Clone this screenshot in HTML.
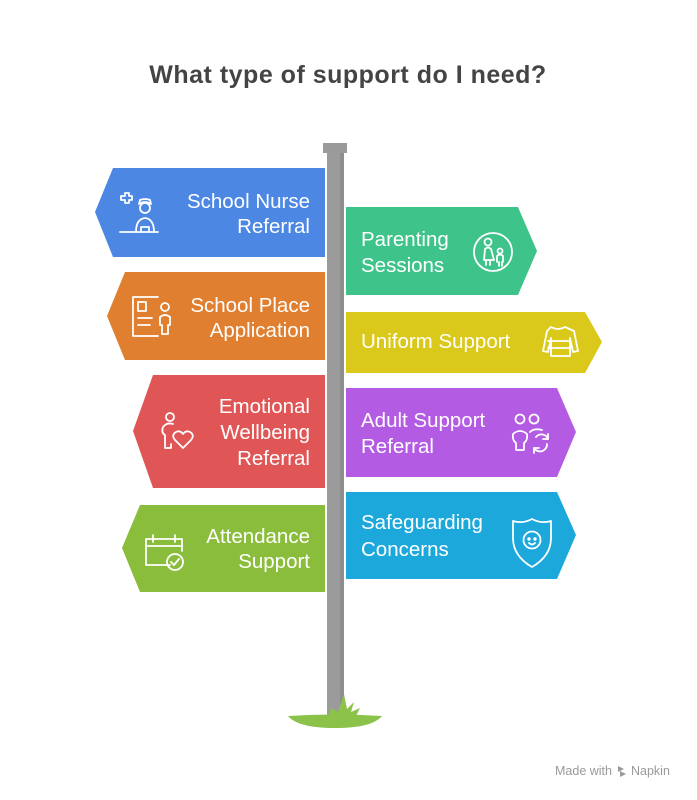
<!DOCTYPE html>
<html><head><meta charset="utf-8"><style>
html,body{margin:0;padding:0;background:#fff;}
svg{display:block;}
text{font-family:"Liberation Sans",Arial,sans-serif;}
</style></head><body>
<svg width="697" height="800" viewBox="0 0 697 800" xmlns="http://www.w3.org/2000/svg">
<rect width="697" height="800" fill="#fff"/>
<text x="348" y="83" text-anchor="middle" font-size="25" letter-spacing="0.5" font-weight="bold" fill="#444">What type of support do I need?</text>

<!-- pole -->
<rect x="323" y="143" width="24" height="10" fill="#9a9a9a"/>
<rect x="327" y="153" width="17" height="562" fill="#9b9b9b"/>
<rect x="340" y="153" width="4" height="562" fill="#8e8e8e"/>
<!-- ground -->
<path d="M288,716 Q335,713 382,716 Q372,728 335,728 Q298,728 288,716 Z" fill="#8bc34a"/>
<path d="M328,716 L331,708 L338,712 L344,694 L347,709 L354,702 L351,712 L360,708 L356,716 Z" fill="#8bc34a"/>

<!-- left signs -->
<polygon points="113,168 325,168 325,257 113,257 95,212" fill="#4b87e3"/>
<polygon points="125,272 325,272 325,360 125,360 107,316" fill="#e07f2f"/>
<polygon points="153,375 325,375 325,488 153,488 133,431" fill="#e05656"/>
<polygon points="140,505 325,505 325,592 140,592 122,548" fill="#8bbd3c"/>

<!-- right signs -->
<polygon points="346,207 518,207 537,251 518,295 346,295" fill="#3ec48a"/>
<polygon points="346,312 585,312 602,342 585,373 346,373" fill="#dac81a"/>
<polygon points="346,388 557,388 576,432 557,477 346,477" fill="#b35be3"/>
<polygon points="346,492 557,492 576,535 557,579 346,579" fill="#1da8dc"/>

<g fill="#fff" font-size="20.5">
<text x="310" y="208" text-anchor="end">School Nurse</text>
<text x="310" y="233" text-anchor="end">Referral</text>
<text x="310" y="312" text-anchor="end">School Place</text>
<text x="310" y="337" text-anchor="end">Application</text>
<text x="310" y="413" text-anchor="end">Emotional</text>
<text x="310" y="439" text-anchor="end">Wellbeing</text>
<text x="310" y="465" text-anchor="end">Referral</text>
<text x="310" y="543" text-anchor="end">Attendance</text>
<text x="310" y="568" text-anchor="end">Support</text>
<text x="361" y="246">Parenting</text>
<text x="361" y="272">Sessions</text>
<text x="361" y="348">Uniform Support</text>
<text x="361" y="427">Adult Support</text>
<text x="361" y="453">Referral</text>
<text x="361" y="529">Safeguarding</text>
<text x="361" y="556">Concerns</text>
</g>

<!-- icons -->
<g fill="none" stroke="#fff" stroke-width="1.8" stroke-linecap="round" stroke-linejoin="round">
<!-- nurse -->
<path d="M121,196 h4 v-3 h4 v3 h3 v4 h-3 v3 h-4 v-3 h-4 z"/>
<path d="M139,204 q6,-4 12,0 l-1,-4 q-5,-2 -10,0 z"/>
<circle cx="145" cy="208" r="5"/>
<path d="M136,232 q0,-13 9,-14 q9,1 9,14"/>
<path d="M141,232 v-5 h8 v5"/>
<line x1="120" y1="232" x2="158" y2="232"/>
<!-- school place doc -->
<path d="M158,297 h-25 v39 h25"/>
<rect x="138" y="302" width="8" height="9"/>
<line x1="138" y1="318" x2="152" y2="318"/>
<line x1="138" y1="325" x2="150" y2="325"/>
<circle cx="165" cy="307" r="4"/>
<path d="M160,325 v-8 q5,-4 10,0 v8 h-2 v9 h-6 v-9 z"/>
<!-- emotional -->
<circle cx="170" cy="417" r="4"/>
<path d="M165,440 v-5 q-4,-2 -2,-8 q4,-5 10,-3"/>
<path d="M165,440 v8 h6 v-4"/>
<path d="M183,448 l-8,-8 q-4,-5 1,-8 q4,-2 7,2 q3,-4 7,-2 q5,3 1,8 z"/>
<!-- calendar -->
<path d="M170,565 h-24 v-26 h36 v12"/>
<line x1="146" y1="546" x2="182" y2="546"/>
<line x1="153" y1="535" x2="153" y2="542"/>
<line x1="175" y1="535" x2="175" y2="542"/>
<circle cx="175" cy="562" r="8"/>
<path d="M171,562 l3,3 l5,-6"/>
<!-- parenting -->
<circle cx="493" cy="252" r="19"/>
<circle cx="488" cy="242" r="3.5"/>
<path d="M484,260 l1,-11 q3,-3 6,0 l3,11 z"/>
<line x1="486" y1="260" x2="486" y2="265"/>
<line x1="490" y1="260" x2="490" y2="265"/>
<circle cx="500" cy="251" r="2.5"/>
<path d="M497,262 v-6 q3,-3 6,0 v6"/>
<line x1="499" y1="262" x2="499" y2="266"/>
<line x1="502" y1="262" x2="502" y2="266"/>
<!-- shirt -->
<path d="M551,327 q7,4 14,0 l9,4 l4,20 l-5,1 l-3,-14 v18 h-19 v-18 l-3,14 l-5,-1 l4,-20 z"/>
<line x1="548" y1="341" x2="570" y2="341"/>
<line x1="548" y1="348" x2="570" y2="348"/>
<!-- adult support -->
<circle cx="520" cy="419" r="4.5"/>
<circle cx="534" cy="419" r="4.5"/>
<path d="M516,450 v-7 q-4,-3 -3,-9 q7,-6 14,0 q1,6 -3,9 v7 z"/>
<path d="M530,432 q4,-4 12,-2"/>
<path d="M534,448 a7,7 0 0 0 13,-4"/>
<path d="M536,437 a7,7 0 0 1 12,2"/>
<path d="M548,434 v5 h-5"/>
<path d="M534,453 v-5 h5"/>
<!-- shield -->
<path d="M532,519 q9,5 19,2 v17 q0,18 -19,29 q-19,-11 -19,-29 v-17 q10,3 19,-2 z"/>
<circle cx="532" cy="540" r="8.5"/>
<circle cx="529" cy="539" r="0.8" fill="#fff"/>
<circle cx="535" cy="539" r="0.8" fill="#fff"/>
<path d="M529,543 q3,3 6,0"/>
</g>

<!-- footer -->
<text x="555" y="775" font-size="12.5" fill="#9a9a9a">Made with</text>
<g fill="#9a9a9a"><path d="M618,766 l6,3 l-6,3 z M620,771 l6,3 l-6,3 z"/></g>
<text x="631" y="775" font-size="12.5" fill="#9a9a9a">Napkin</text>
</svg>
</body></html>
